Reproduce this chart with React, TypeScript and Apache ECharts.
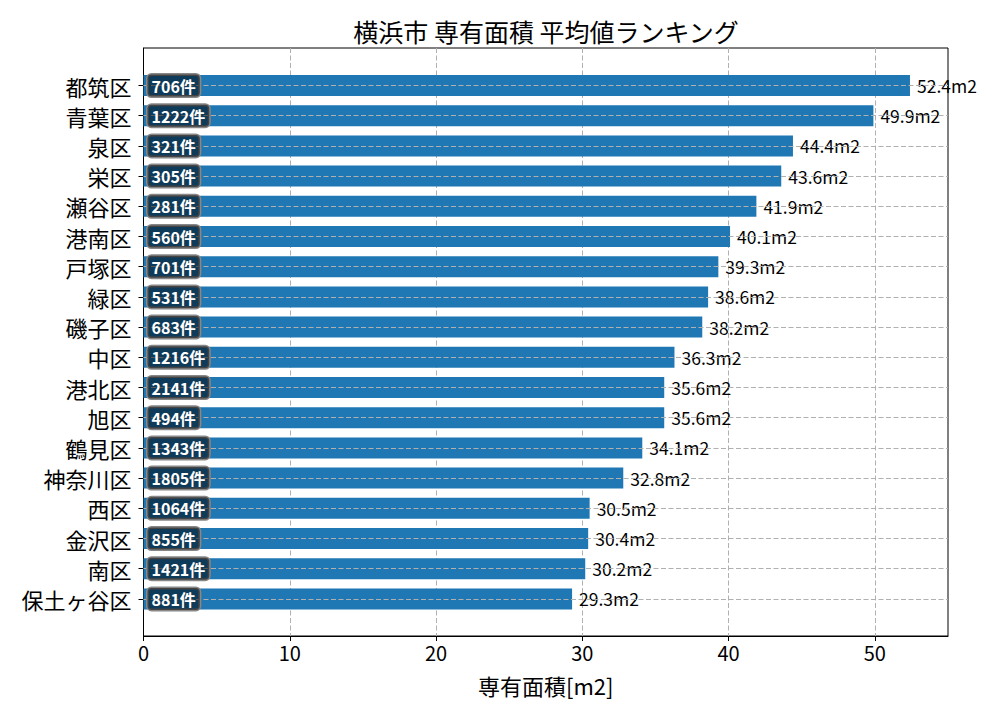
import * as echarts from 'echarts';
import { useEffect, useRef } from 'react';

const wards = [
  '都筑区', '青葉区', '泉区', '栄区', '瀬谷区', '港南区', '戸塚区', '緑区', '磯子区',
  '中区', '港北区', '旭区', '鶴見区', '神奈川区', '西区', '金沢区', '南区', '保土ヶ谷区',
];
const avgArea = [
  52.4, 49.9, 44.4, 43.6, 41.9, 40.1, 39.3, 38.6, 38.2,
  36.3, 35.6, 35.6, 34.1, 32.8, 30.5, 30.4, 30.2, 29.3,
];
const counts = [
  706, 1222, 321, 305, 281, 560, 701, 531, 683,
  1216, 2141, 494, 1343, 1805, 1064, 855, 1421, 881,
];
const xTickValues = [0, 10, 20, 30, 40, 50];
const xMax = 55;

const FONT = '"Noto Sans CJK JP", "Noto Sans", sans-serif';
const LEFT = 143.5;
const WIDTH = 804.5;
const gridDash = { color: '#b0b0b0', type: [5, 2.5] as number[], width: 1 };

function buildOption() {
  return {
    animation: false,
    textStyle: { fontFamily: FONT },
    title: {
      text: '横浜市 専有面積 平均値ランキング',
      left: 541,
      textAlign: 'center',
      top: 13,
      textStyle: { fontFamily: FONT, fontSize: 25, fontWeight: 'normal', color: '#000' },
    },
    grid: [
      // frame + x axis
      { left: LEFT, top: 48, width: WIDTH, height: 588, show: true, borderColor: '#000', borderWidth: 1 },
      // bars
      { left: LEFT, top: 70.4, width: WIDTH, height: 543.6 },
      // horizontal guide lines through bar centers
      { left: LEFT, top: 85.5, width: WIDTH, height: 513.3 },
    ],
    xAxis: [
      {
        gridIndex: 0,
        type: 'value',
        min: 0,
        max: xMax,
        axisLine: { show: true, lineStyle: { color: '#000', width: 1 } },
        axisTick: { show: true, length: 5, lineStyle: { color: '#000' }, customValues: xTickValues },
        axisLabel: { fontSize: 20, color: '#000', margin: 6, fontFamily: FONT, customValues: xTickValues },
        splitLine: { show: true, lineStyle: gridDash },
        name: '専有面積[m2]',
        nameLocation: 'middle',
        nameGap: 38,
        nameTextStyle: { fontSize: 22, color: '#000', fontFamily: FONT },
      },
      { gridIndex: 1, type: 'value', min: 0, max: xMax, show: false },
      { gridIndex: 2, type: 'value', min: 0, max: xMax, show: false },
    ],
    yAxis: [
      {
        gridIndex: 0,
        type: 'value',
        min: 0,
        max: 1,
        axisLine: { show: true, lineStyle: { color: '#000', width: 1 } },
        axisTick: { show: false },
        axisLabel: { show: false },
        splitLine: { show: false },
      },
      {
        gridIndex: 1,
        type: 'category',
        inverse: true,
        data: wards,
        axisLine: { show: false },
        axisTick: { show: true, alignWithLabel: true, length: 5, lineStyle: { color: '#000' } },
        axisLabel: { fontSize: 22, color: '#000', margin: 12, fontFamily: FONT },
        splitLine: { show: false },
      },
      {
        gridIndex: 2,
        type: 'value',
        min: 0,
        max: 17,
        interval: 1,
        z: 3,
        axisLine: { show: false },
        axisTick: { show: false },
        axisLabel: { show: false },
        splitLine: { show: true, lineStyle: gridDash },
      },
    ],
    series: [
      {
        type: 'bar',
        xAxisIndex: 1,
        yAxisIndex: 1,
        data: avgArea,
        barWidth: 21,
        itemStyle: { color: '#1f77b4' },
        label: {
          show: true,
          position: 'right',
          distance: 7,
          fontSize: 17.5,
          color: '#000',
          fontFamily: FONT,
          formatter: (p: { value: number }) => `${p.value.toFixed(1)}m2`,
        },
      },
      {
        type: 'bar',
        xAxisIndex: 1,
        yAxisIndex: 1,
        data: avgArea,
        barWidth: 21,
        barGap: '-100%',
        z: 4,
        silent: true,
        itemStyle: { color: 'rgba(0,0,0,0)' },
        label: {
          show: true,
          position: 'insideLeft',
          distance: 4,
          fontSize: 16,
          fontWeight: 'bold',
          color: '#fff',
          fontFamily: FONT,
          backgroundColor: 'rgba(0,0,0,0.5)',
          borderColor: '#888',
          borderWidth: 1.5,
          borderRadius: 4,
          padding: [3, 4, 3, 4],
          formatter: (p: { dataIndex: number }) => `${counts[p.dataIndex]}件`,
        },
      },
    ],
  };
}

export default function App() {
  const ref = useRef<HTMLDivElement | null>(null);

  useEffect(() => {
    if (!ref.current) return;
    const chart = echarts.init(ref.current, undefined, { renderer: 'svg' });
    chart.setOption(buildOption());
    return () => chart.dispose();
  }, []);

  return (
    <div
      ref={ref}
      style={{ position: 'fixed', left: 0, top: 0, width: 1000, height: 720, background: '#fff' }}
    />
  );
}
